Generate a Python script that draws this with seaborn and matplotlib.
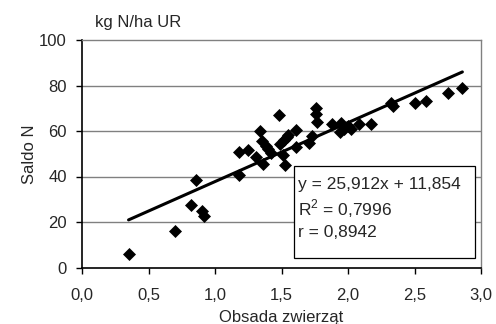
import matplotlib
matplotlib.use("Agg")
import matplotlib.pyplot as plt
from matplotlib.patches import Rectangle
import seaborn as sns
import numpy as np
import pandas as pd

# data
obsada = [0.35, 0.70, 0.82, 0.86, 0.90, 0.92, 1.18, 1.18, 1.25, 1.31, 1.34, 1.35,
          1.36, 1.38, 1.40, 1.42, 1.48, 1.49, 1.51, 1.53, 1.52, 1.54, 1.55, 1.61,
          1.61, 1.71, 1.73, 1.76, 1.76, 1.77, 1.88, 1.94, 1.95, 1.97, 2.02, 2.00,
          2.08, 2.17, 2.32, 2.34, 2.50, 2.59, 2.75, 2.86]
saldo = [6.0, 16.2, 27.6, 38.5, 24.8, 22.6, 40.7, 50.6, 51.8, 48.4, 59.9, 55.8,
         45.4, 53.5, 52.0, 50.5, 67.1, 54.3, 49.6, 45.1, 56.0, 57.2, 58.4, 60.5,
         52.8, 54.6, 58.0, 70.2, 67.3, 63.9, 63.1, 59.4, 63.4, 60.9, 60.9, 62.0,
         63.1, 63.1, 72.3, 71.2, 72.4, 73.0, 76.7, 79.0]
slope = 25.912
intercept = 11.854
eq_lines = ["y = 25,912x + 11,854", "R$^2$ = 0,7996", "r = 0,8942"]
x_ticks = [0.0, 0.5, 1.0, 1.5, 2.0, 2.5, 3.0]
x_tick_labels = ["0,0", "0,5", "1,0", "1,5", "2,0", "2,5", "3,0"]
y_ticks = [0, 20, 40, 60, 80, 100]

sns.set_style("white")
plt.rcParams['font.family'] = ['Liberation Sans', 'DejaVu Sans']
plt.rcParams['mathtext.fontset'] = 'custom'
plt.rcParams['mathtext.rm'] = 'Liberation Sans'

fig = plt.figure(figsize=(4.96, 3.24), dpi=100)
ax = fig.add_axes([82/496, 1-267.5/324, (481-82)/496, (267.5-40)/324])

df = pd.DataFrame({"x": obsada, "y": saldo})
xs = np.array([min(obsada), max(obsada)])
line_df = pd.DataFrame({"x": xs, "y": slope * xs + intercept})

for yv in y_ticks[1:-1]:
    ax.axhline(yv, color="#808080", lw=1.0, zorder=0)

sns.lineplot(data=line_df, x="x", y="y", ax=ax, color="black", lw=2.2, zorder=2)
sns.scatterplot(data=df, x="x", y="y", ax=ax, marker="D", color="black",
                s=44, edgecolor="black", linewidth=0, zorder=3)

ax.set_xlim(0, 3)
ax.set_ylim(0, 100)
ax.set_xticks(x_ticks)
ax.set_xticklabels(x_tick_labels)
ax.set_yticks(y_ticks)
ax.tick_params(axis="both", labelsize=12, length=4, width=1, color="black",
               direction="out", left=True, bottom=True)
ax.tick_params(axis="x", pad=11)
ax.tick_params(axis="y", pad=7)
for s in ["left", "bottom"]:
    ax.spines[s].set_color("black")
    ax.spines[s].set_linewidth(1.2)
for s in ["top", "right"]:
    ax.spines[s].set_color("#808080")
    ax.spines[s].set_linewidth(1.0)

ax.set_xlabel("Obsada zwierząt", fontsize=12, labelpad=5)
ax.set_ylabel("Saldo N", fontsize=12, labelpad=1.5)
fig.text(95/496, 1-22/324, "kg N/ha UR", fontsize=12, va="center", ha="left")

ax.add_patch(Rectangle((1.594, 4.0), 2.955 - 1.594, 44.7 - 4.0, facecolor="white",
                       edgecolor="black", lw=0.9, zorder=5))
for i, t in enumerate(eq_lines):
    ax.text(1.624, 36.5 - i * 10.6, t, fontsize=12.5, va="center", ha="left", zorder=6)

fig.savefig("out.png", dpi=100)
